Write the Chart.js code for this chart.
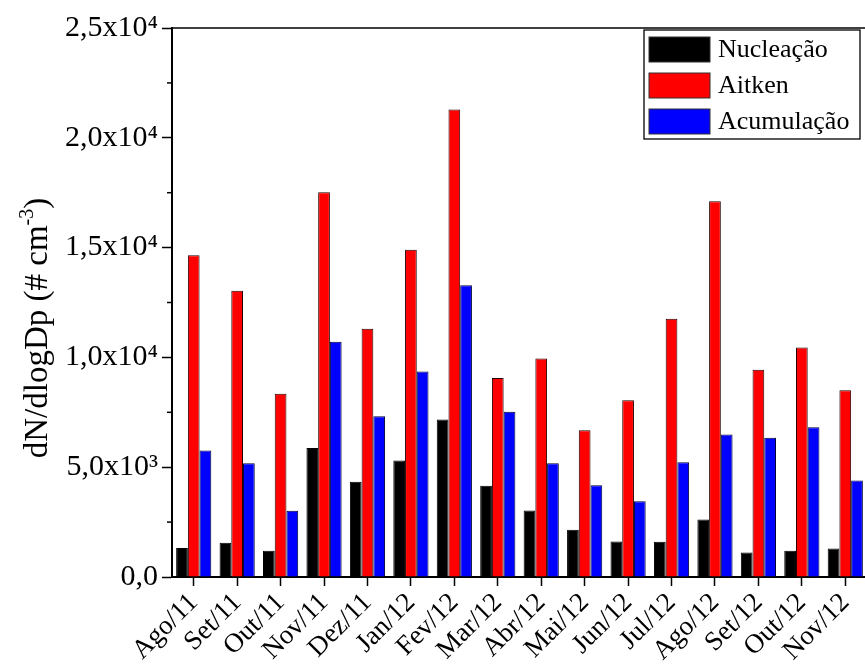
<!DOCTYPE html>
<html lang="pt">

<head>
    <meta charset="UTF-8">
    <title>dN/dlogDp mensal</title>
    <style>
        body {
            margin: 0;
            background: #fff;
            overflow: hidden;
        }

        canvas {
            display: block;
        }
    </style>
    <script src="https://cdn.jsdelivr.net/npm/chart.js"></script>
</head>

<body>
    <canvas id="modos" width="870" height="668"></canvas>

    <script>
        // meses
        const meses = ["Ago/11", "Set/11", "Out/11", "Nov/11", "Dez/11", "Jan/12", "Fev/12", "Mar/12",
            "Abr/12", "Mai/12", "Jun/12", "Jul/12", "Ago/12", "Set/12", "Out/12", "Nov/12"];

        // concentrações (# cm-3)
        const nucleacao = [1320, 1560, 1200, 5880, 4340, 5300, 7170, 4150, 3030, 2150, 1620, 1610, 2620, 1110, 1200, 1300];
        const aitken = [14650, 13030, 8340, 17520, 11300, 14900, 21290, 9060, 9950, 6680, 8050, 11760, 17110, 9440, 10450, 8500];
        const acumulacao = [5760, 5180, 3020, 10710, 7320, 9360, 13290, 7530, 5180, 4180, 3450, 5230, 6490, 6340, 6820, 4400];

        // rótulos do eixo y (a cada 5000)
        const yTickLabels = ["0,0", "5,0x10³", "1,0x10⁴", "1,5x10⁴", "2,0x10⁴", "2,5x10⁴"];

        const serif = "'Liberation Serif', 'Times New Roman', serif";

        // moldura, ticks menores, título do eixo y e legenda
        const moldura = {
            id: "moldura",
            afterDraw(chart) {
                const ctx = chart.ctx;
                const a = chart.chartArea;
                const y = chart.scales.y;
                ctx.save();

                // linha de cima
                ctx.strokeStyle = "#000";
                ctx.lineWidth = 1.3;
                ctx.beginPath();
                ctx.moveTo(a.left, a.top);
                ctx.lineTo(a.right + 5, a.top);
                ctx.stroke();

                // ticks menores
                ctx.lineWidth = 1.5;
                for (let v = 2500; v < 25000; v += 5000) {
                    const py = y.getPixelForValue(v);
                    ctx.beginPath();
                    ctx.moveTo(a.left - 5, py);
                    ctx.lineTo(a.left, py);
                    ctx.stroke();
                }

                // título do eixo y
                ctx.save();
                ctx.translate(47, 328);
                ctx.rotate(-Math.PI / 2);
                ctx.fillStyle = "#000";
                ctx.textBaseline = "alphabetic";
                ctx.textAlign = "left";
                const parte1 = "dN/dlogDp (# cm";
                const sup = "-3";
                const parte2 = ")";
                ctx.font = "33px " + serif;
                const w1 = ctx.measureText(parte1).width;
                const w3 = ctx.measureText(parte2).width;
                ctx.font = "20px " + serif;
                const w2 = ctx.measureText(sup).width;
                let x0 = -(w1 + w2 + w3) / 2;
                ctx.font = "33px " + serif;
                ctx.fillText(parte1, x0, 0);
                ctx.font = "20px " + serif;
                ctx.fillText(sup, x0 + w1, -14);
                ctx.font = "33px " + serif;
                ctx.fillText(parte2, x0 + w1 + w2, 0);
                ctx.restore();

                // legenda
                const lx = a.left + 472, ly = a.top + 2;
                ctx.fillStyle = "#fff";
                ctx.fillRect(lx, ly, 216, 109);
                ctx.lineWidth = 1.3;
                ctx.strokeStyle = "#000";
                ctx.strokeRect(lx, ly, 216, 109);
                ctx.font = "26px " + serif;
                ctx.textBaseline = "middle";
                chart.data.datasets.forEach((ds, i) => {
                    const sy = ly + 7 + i * 36;
                    ctx.fillStyle = ds.backgroundColor;
                    ctx.fillRect(lx + 5, sy, 61, 25);
                    ctx.strokeStyle = "#333";
                    ctx.lineWidth = 1;
                    ctx.strokeRect(lx + 5, sy, 61, 25);
                    ctx.fillStyle = "#000";
                    ctx.fillText(ds.label, lx + 74, sy + 13);
                });

                ctx.restore();
            }
        };

        new Chart(document.getElementById("modos"), {
            type: "bar",
            data: {
                labels: meses,
                datasets: [
                    { label: "Nucleação", data: nucleacao, backgroundColor: "#000000", borderColor: "#000000", borderWidth: 1 },
                    { label: "Aitken", data: aitken, backgroundColor: "#ff0000", borderColor: "#200000", borderWidth: 1 },
                    { label: "Acumulação", data: acumulacao, backgroundColor: "#0000ff", borderColor: "#000033", borderWidth: 1 },
                ],
            },
            options: {
                responsive: false,
                animation: false,
                datasets: {
                    bar: { categoryPercentage: 0.81, barPercentage: 1.0 }
                },
                layout: { padding: { left: 0, top: 28, right: 3, bottom: 0 } },
                plugins: {
                    legend: { display: false },
                    tooltip: { enabled: false },
                },
                scales: {
                    x: {
                        ticks: {
                            autoSkip: false,
                            minRotation: 45,
                            maxRotation: 45,
                            padding: 1,
                            color: "#000",
                            font: { family: serif, size: 27 },
                        },
                        grid: { offset: false, drawOnChartArea: false, tickLength: 9, tickWidth: 1.5, tickColor: "#000" },
                        border: { color: "#000", width: 2 },
                        afterFit: (s) => { s.height = 91; },
                    },
                    y: {
                        min: 0,
                        max: 25000,
                        ticks: {
                            stepSize: 5000,
                            padding: 4,
                            color: "#000",
                            font: { family: serif, size: 30 },
                            callback: (v) => yTickLabels[Math.round(v / 5000)],
                        },
                        grid: { drawOnChartArea: false, tickLength: 10, tickWidth: 1.5, tickColor: "#000" },
                        border: { color: "#000", width: 2 },
                        afterFit: (s) => { s.width = 172; },
                    },
                },
            },
            plugins: [moldura],
        });
    </script>
</body>

</html>
